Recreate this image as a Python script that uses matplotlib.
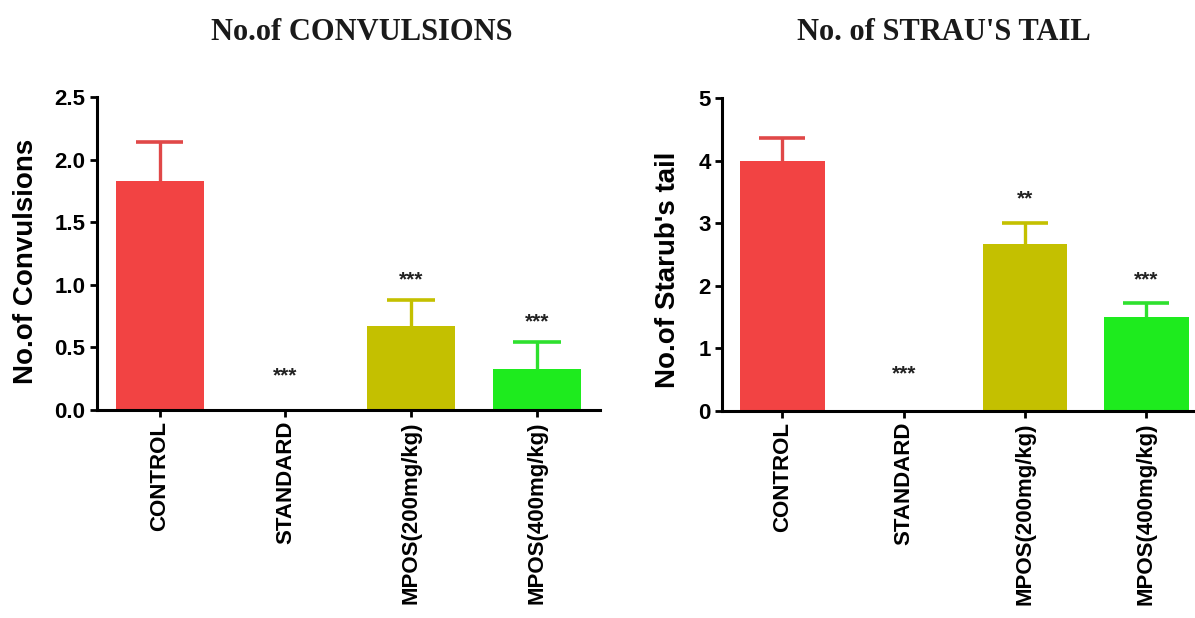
import numpy as np
import matplotlib
matplotlib.use("Agg")
import matplotlib.pyplot as plt

# Data
groups = ["CONTROL", "STANDARD", "MPOS(200mg/kg)", "MPOS(400mg/kg)"]
conv_mean = [1.83, 0.0, 0.67, 0.33]
conv_sem = [0.31, 0.0, 0.21, 0.21]
conv_stars = ["", "***", "***", "***"]
conv_star_y = [0, 0.27, 1.04, 0.70]

straub_mean = [4.0, 0.0, 2.67, 1.5]
straub_sem = [0.36, 0.0, 0.33, 0.22]
straub_stars = ["", "***", "**", "***"]
straub_star_y = [0, 0.59, 3.39, 2.09]

COLORS = ["#F24343", "#FFFFFF", "#C4C000", "#1EEB1E"]
ERR_COLORS = ["#E04848", "#FFFFFF", "#C4C000", "#2EE02E"]

plt.rcParams["font.family"] = ["Liberation Sans", "DejaVu Sans"]
plt.rcParams["font.weight"] = "bold"

fig = plt.figure(figsize=(11.95, 6.18), dpi=100)


def draw_panel(ax, means, sems, stars, star_y, ymax, ystep, ylabel, fmt):
    x = np.arange(len(groups))
    ax.bar(x, means, width=0.7, color=COLORS, edgecolor="none", zorder=2)
    for i in range(len(groups)):
        if sems[i] > 0:
            top = means[i] + sems[i]
            ax.vlines(x[i], means[i], top, color=ERR_COLORS[i], lw=2.4, zorder=3)
            ax.hlines(top, x[i] - 0.19, x[i] + 0.19, color=ERR_COLORS[i], lw=2.6, zorder=3)
        if stars[i]:
            ax.text(x[i], star_y[i], stars[i], ha="center", va="center",
                    fontsize=15, fontweight="bold", color="#222222")
    ax.set_xlim(-0.5, 3.5)
    ax.set_ylim(0, ymax)
    ticks = np.arange(0, ymax + ystep / 2, ystep)
    ax.set_yticks(ticks)
    ax.set_yticklabels([fmt.format(v) for v in ticks])
    ax.set_xticks(x)
    ax.set_xticklabels(groups, rotation=90, va="top", ha="center")
    for s in ["top", "right"]:
        ax.spines[s].set_visible(False)
    for s in ["left", "bottom"]:
        ax.spines[s].set_linewidth(2.2)
    ax.tick_params(axis="both", length=5, width=2, labelsize=16, pad=3)
    ax.set_ylabel(ylabel, fontsize=20, fontweight="bold")
    ax.patch.set_alpha(0)


ax1 = fig.add_axes([0.0809, 0.3366, 0.4211, 0.5064])
draw_panel(ax1, conv_mean, conv_sem, conv_stars, conv_star_y, 2.5, 0.5,
           "No.of Convulsions", "{:.1f}")
ax1.yaxis.set_label_coords(-0.115, 0.475)

ax2 = fig.add_axes([0.604, 0.335, 0.406, 0.506])
draw_panel(ax2, straub_mean, straub_sem, straub_stars, straub_star_y, 5, 1,
           "No.of Starub's tail", "{:.0f}")
ax2.yaxis.set_label_coords(-0.085, 0.45)

title_font = ["Liberation Serif", "DejaVu Serif"]
fig.text(0.3025, 0.947, "No.of CONVULSIONS", ha="center", va="center",
         fontsize=22, fontweight="bold", family=title_font, color="#1a1a1a")
fig.text(0.79, 0.947, "No. of STRAU'S TAIL", ha="center", va="center",
         fontsize=22, fontweight="bold", family=title_font, color="#1a1a1a")

fig.savefig("out.png", dpi=100)
